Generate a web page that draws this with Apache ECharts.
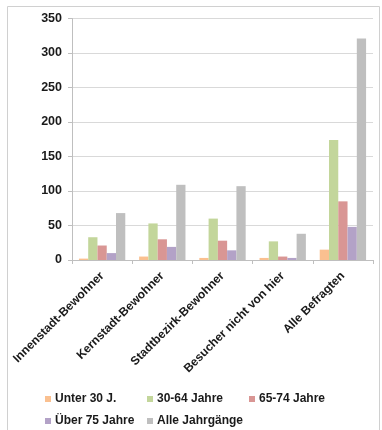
<!DOCTYPE html>
<html>
<head>
<meta charset="utf-8">
<script src="https://cdn.jsdelivr.net/npm/echarts@6/dist/echarts.min.js"></script>
<style>
html,body{margin:0;padding:0;background:#fff;}
#c{width:382px;height:430px;}
</style>
</head>
<body>
<div id="c"></div>
<script>
var categories = ["Innenstadt-Bewohner", "Kernstadt-Bewohner", "Stadtbezirk-Bewohner", "Besucher nicht von hier", "Alle Befragten"];
var seriesNames = ["Unter 30 J.", "30-64 Jahre", "65-74 Jahre", "Über 75 Jahre", "Alle Jahrgänge"];
var unter30 = [2, 5, 3, 3, 15];
var jahre3064 = [33, 53, 60, 27, 174];
var jahre6574 = [21, 30, 28, 5, 85];
var ueber75 = [10, 19, 14, 3, 48];
var alle = [68, 109, 107, 38, 321];
var yTicks = [0, 50, 100, 150, 200, 250, 300, 350];

var colors = ["#FAC090", "#C3D69B", "#D99694", "#B3A2C7", "#BFBFBF"];
var values = [unter30, jahre3064, jahre6574, ueber75, alle];
var font = "'Liberation Sans', Arial, sans-serif";

var chart = echarts.init(document.getElementById('c'), null, {renderer: 'canvas'});
chart.setOption({
  animation: false,
  backgroundColor: '#fff',
  color: colors,
  graphic: [{
    type: 'rect',
    shape: {x: 7.5, y: 6.5, width: 372, height: 440},
    style: {fill: 'none', stroke: '#d0d0d0', lineWidth: 1},
    silent: true
  }],
  grid: {left: 72, right: 9, top: 18.5, bottom: 170},
  xAxis: {
    type: 'category',
    data: categories,
    boundaryGap: true,
    axisLine: {lineStyle: {color: '#bfbfbf'}},
    axisTick: {show: true, length: 4, lineStyle: {color: '#bfbfbf'}},
    axisLabel: {
      interval: 0,
      rotate: 45,
      margin: 14,
      color: '#1a1a1a',
      fontFamily: font,
      fontWeight: 'bold',
      fontSize: 12
    }
  },
  yAxis: {
    type: 'value',
    min: yTicks[0],
    max: yTicks[yTicks.length - 1],
    interval: 50,
    axisLine: {show: true, lineStyle: {color: '#bfbfbf'}},
    axisTick: {show: true, length: 4, lineStyle: {color: '#bfbfbf'}},
    splitLine: {lineStyle: {color: '#d9d9d9'}},
    axisLabel: {
      margin: 10,
      color: '#1a1a1a',
      fontFamily: font,
      fontWeight: 'bold',
      fontSize: 12.5
    }
  },
  legend: {
    left: 40,
    top: 388,
    width: 320,
    icon: 'rect',
    itemWidth: 6,
    itemHeight: 6,
    itemGap: 10,
    selectedMode: false,
    textStyle: {
      width: 82,
      lineHeight: 10.5,
      color: '#1a1a1a',
      fontFamily: font,
      fontWeight: 'bold',
      fontSize: 12,
      padding: [0, 0, 0, -1]
    },
    data: seriesNames
  },
  series: seriesNames.map(function (name, i) {
    return {
      name: name,
      type: 'bar',
      data: values[i],
      barGap: '0%',
      barCategoryGap: '23%',
      itemStyle: {color: colors[i]}
    };
  })
});
</script>
</body>
</html>
